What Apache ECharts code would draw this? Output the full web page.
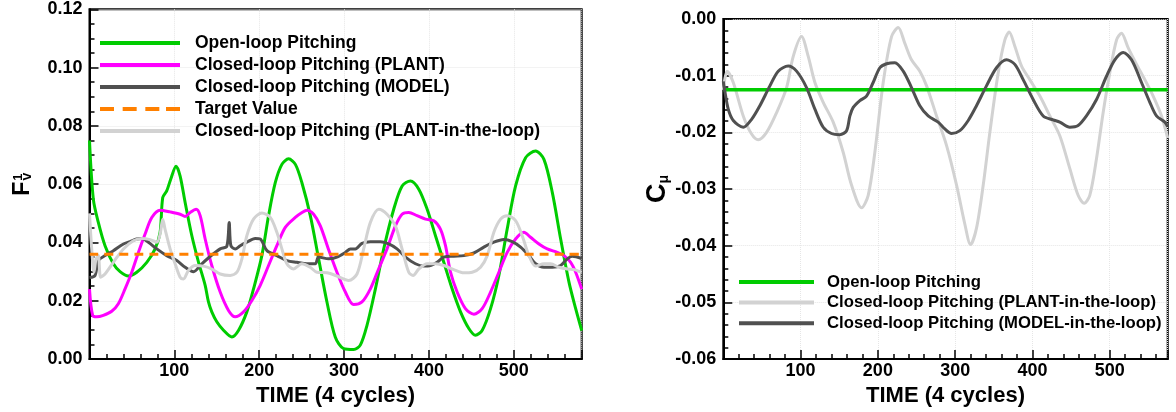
<!DOCTYPE html>
<html><head><meta charset="utf-8">
<script src="https://cdn.jsdelivr.net/npm/echarts@6/dist/echarts.min.js"></script>
<style>html,body{margin:0;padding:0;background:#fff}#c{width:1176px;height:412px}</style>
</head><body><div id="c"></div><script>
// ---------- data (left panel: F_v^1) ----------
const openT = [0, 4.5, 10.4, 18.3, 28.1, 36, 45.9, 55.7, 67.5, 77.3, 83.2, 86.3, 91, 95.7, 102, 106.8, 112.7, 120.6, 128.5, 136.3, 140.2, 144.1, 150, 157.9, 167.8, 175.7, 185.4, 193.3, 203.1, 211, 218.9, 226.7, 234.6, 242.6, 250.3, 260.2, 270, 279.8, 289.7, 299.5, 311.3, 319.1, 327, 336.9, 346.7, 358.5, 368.4, 378.2, 388, 397.9, 407.7, 417.5, 427.3, 437.2, 447, 454.8, 462.8, 472.6, 482.4, 492.2, 502.1, 513.9, 525.7, 535.5, 545.4, 555.2, 565, 572.9, 580];
const openF = [0.075, 0.0549, 0.0469, 0.0389, 0.0327, 0.030, 0.0285, 0.0298, 0.0332, 0.0378, 0.0435, 0.0554, 0.0577, 0.0617, 0.0662, 0.0628, 0.0537, 0.0423, 0.0332, 0.0253, 0.0196, 0.0162, 0.0128, 0.0099, 0.0076, 0.0099, 0.0162, 0.0241, 0.0355, 0.0492, 0.0605, 0.0668, 0.0687, 0.0668, 0.0605, 0.0492, 0.0344, 0.0196, 0.0075, 0.0036, 0.0033, 0.0048, 0.0116, 0.0241, 0.0378, 0.0514, 0.0594, 0.0611, 0.0583, 0.0514, 0.0423, 0.0332, 0.0241, 0.0162, 0.0105, 0.0082, 0.0099, 0.0173, 0.0287, 0.0446, 0.0594, 0.0691, 0.0714, 0.0685, 0.0571, 0.0412, 0.0264, 0.0173, 0.0098];

const plantT = [0, 3.7, 8.5, 16.3, 26.2, 34, 41.9, 49.8, 57.6, 65.5, 73.4, 83.2, 95, 106.8, 112.7, 118.6, 125.7, 130.4, 136.3, 144.1, 154, 163.8, 171.7, 181.5, 191.4, 201.2, 211, 220.8, 230.7, 242.5, 250.4, 256.3, 264.1, 272, 281.8, 291.6, 301.5, 311.3, 321.1, 331, 340.8, 350.6, 360.5, 368.3, 376.2, 386, 395.9, 405.7, 413.5, 419.5, 425.4, 433.2, 443, 452.9, 462.7, 472.6, 482.4, 492.2, 502.1, 511.9, 519.7, 529.6, 539.4, 551.2, 559.1, 567, 572.9, 580];
const plantF = [0.024, 0.015, 0.0145, 0.015, 0.0164, 0.019, 0.0241, 0.0298, 0.0366, 0.0429, 0.0486, 0.0511, 0.0505, 0.0497, 0.0489, 0.0503, 0.0514, 0.0492, 0.0412, 0.0321, 0.023, 0.0167, 0.0145, 0.0162, 0.0201, 0.0253, 0.0321, 0.0389, 0.0452, 0.0486, 0.0503, 0.0511, 0.0497, 0.0457, 0.0375, 0.0298, 0.023, 0.0187, 0.0196, 0.0241, 0.031, 0.0378, 0.0457, 0.0497, 0.0503, 0.0492, 0.048, 0.0475, 0.0446, 0.0389, 0.0298, 0.023, 0.0173, 0.0154, 0.0173, 0.023, 0.0298, 0.0366, 0.0412, 0.0435, 0.0418, 0.0395, 0.0378, 0.0366, 0.0355, 0.0332, 0.0298, 0.024];

const modelT = [0, 6.5, 10.4, 18.3, 28.1, 40, 47.8, 55.7, 61.6, 69.4, 79.3, 91, 102.9, 112.7, 122.5, 132.4, 144.2, 154, 161.8, 164.6, 166.6, 171.7, 177.6, 185.4, 195.3, 201.2, 209.1, 220.8, 232.6, 244.4, 256.3, 266.1, 270, 281.8, 291.6, 301.5, 307.4, 313.3, 321.1, 331, 342.8, 352.6, 362.4, 372.3, 384.1, 393.9, 401.8, 409.6, 417.5, 429.3, 441.1, 452.9, 464.7, 476.5, 488.3, 498.1, 508, 517.8, 525.7, 535.5, 545.4, 555.2, 563, 568.9, 580];
const modelF = [0.028, 0.0287, 0.0338, 0.0355, 0.0372, 0.0395, 0.0403, 0.0412, 0.0414, 0.0401, 0.0378, 0.0355, 0.0338, 0.0315, 0.030, 0.0327, 0.0357, 0.0378, 0.0387, 0.0469, 0.0389, 0.0378, 0.0389, 0.0401, 0.0414, 0.0412, 0.0372, 0.0355, 0.0338, 0.0332, 0.0327, 0.0327, 0.035, 0.0344, 0.035, 0.0366, 0.0378, 0.0378, 0.0397, 0.0403, 0.0403, 0.0395, 0.0378, 0.035, 0.0327, 0.0319, 0.0321, 0.0332, 0.035, 0.0353, 0.0355, 0.0364, 0.0384, 0.0401, 0.041, 0.0403, 0.0384, 0.0355, 0.0327, 0.0315, 0.0315, 0.0321, 0.0344, 0.0353, 0.0345];

const pitlT = [0, 2.6, 5.3, 7.7, 10.4, 13.2, 18.3, 28.1, 40, 51.7, 61.6, 71.4, 79.3, 83.2, 86.3, 89, 95, 100.9, 106.8, 110.7, 116.6, 124.5, 134.3, 144.2, 154, 165.8, 173.7, 179.6, 185.4, 193.3, 203.1, 213, 220.8, 226.7, 232.6, 240.4, 250.3, 260.1, 268, 279.8, 291.6, 305.4, 315.2, 323.1, 331, 340.8, 350.6, 360.5, 368.3, 376.2, 381.3, 388, 397.8, 407.7, 417.5, 429.3, 441.1, 451, 460.8, 468.7, 476.5, 484.4, 492.2, 502.1, 509.9, 517.8, 525.7, 535.5, 543.4, 553.2, 563, 570.9, 580];
const pitlF = [0.050, 0.0378, 0.0298, 0.0344, 0.0355, 0.0281, 0.0292, 0.0332, 0.0378, 0.0406, 0.0414, 0.041, 0.0401, 0.0429, 0.048, 0.0446, 0.0378, 0.0327, 0.0281, 0.0275, 0.0304, 0.0321, 0.0319, 0.0309, 0.0292, 0.0287, 0.0298, 0.0344, 0.0423, 0.048, 0.0501, 0.0486, 0.0435, 0.0378, 0.0327, 0.0309, 0.0327, 0.0315, 0.0298, 0.0296, 0.0285, 0.027, 0.0292, 0.0378, 0.0469, 0.0514, 0.0497, 0.0457, 0.0378, 0.0298, 0.0287, 0.0309, 0.0327, 0.0327, 0.0321, 0.0307, 0.0296, 0.0298, 0.0315, 0.0355, 0.0435, 0.048, 0.0492, 0.0475, 0.0423, 0.0355, 0.0319, 0.0327, 0.0327, 0.0315, 0.0309, 0.0307, 0.0298];

const targetT = [0, 580];
const targetF = [0.036, 0.036];

// ---------- data (right panel: C_mu) ----------
const cmOpenT = [0, 575];
const cmOpen = [-0.0125, -0.0125];

const cmPlantT = [0, 5, 12.9, 25.8, 36.6, 45.2, 56, 69, 81.9, 90.5, 101.2, 109.9, 118.5, 129.3, 142.2, 155.1, 165.9, 178.9, 187.5, 196.1, 206.9, 217.7, 226.3, 234.9, 243.5, 254.3, 263, 275.9, 288.8, 301.8, 312.7, 319.9, 327.6, 336.3, 344.9, 355.7, 364.3, 369.9, 377.2, 385.9, 396.6, 409.6, 422.5, 435.4, 448.4, 459.1, 466.9, 474.2, 482.9, 491.5, 500.1, 508.8, 515.2, 523.9, 534.7, 545.4, 556.2, 567, 575];
const cmPlant = [-0.0125, -0.0092, -0.0112, -0.0171, -0.0203, -0.0213, -0.020, -0.0165, -0.0121, -0.0066, -0.0031, -0.0066, -0.0112, -0.0147, -0.0182, -0.0235, -0.0293, -0.0333, -0.0311, -0.0235, -0.0112, -0.0031, -0.0015, -0.0043, -0.0072, -0.0092, -0.0118, -0.0171, -0.0223, -0.0293, -0.0363, -0.0398, -0.0369, -0.0293, -0.020, -0.0095, -0.0037, -0.0023, -0.0048, -0.0083, -0.0107, -0.0136, -0.0171, -0.0206, -0.0264, -0.0311, -0.0325, -0.0311, -0.0246, -0.0165, -0.0095, -0.0037, -0.0025, -0.0051, -0.008, -0.0107, -0.0136, -0.0171, -0.021];

const cmModelT = [0, 1.6, 6.4, 12.9, 25.8, 36.6, 47.3, 60.3, 71.1, 84, 94.8, 107.7, 118.5, 129.3, 140, 150.8, 159.5, 163.8, 168.1, 176.7, 185.3, 193.9, 202.6, 211.2, 222, 232.8, 243.5, 254.3, 265.1, 278, 286.7, 295.3, 306.1, 316.9, 327.6, 340.5, 353.5, 366.4, 377.2, 388, 400.9, 413.9, 426.8, 435.4, 448.4, 459.1, 469.9, 482.9, 495.8, 506.6, 517.4, 528.2, 541.1, 551.9, 560.5, 571.3, 575];
const cmModel = [-0.011, -0.0124, -0.0159, -0.0179, -0.0191, -0.0177, -0.0153, -0.0118, -0.0092, -0.0083, -0.0092, -0.0121, -0.0159, -0.0191, -0.0202, -0.0204, -0.0197, -0.0171, -0.0156, -0.0144, -0.0136, -0.0112, -0.0086, -0.0079, -0.0077, -0.0092, -0.0121, -0.0153, -0.0171, -0.0182, -0.0194, -0.0202, -0.0197, -0.0179, -0.0153, -0.0118, -0.0086, -0.0072, -0.008, -0.0107, -0.0142, -0.0171, -0.0178, -0.0182, -0.0191, -0.0188, -0.0171, -0.0142, -0.0101, -0.0072, -0.0059, -0.0072, -0.0112, -0.0147, -0.0171, -0.0182, -0.019];

const leftLegend = ['Open-loop Pitching', 'Closed-loop Pitching (PLANT)', 'Closed-loop Pitching (MODEL)', 'Target Value', 'Closed-loop Pitching (PLANT-in-the-loop)'];
const rightLegend = ['Open-loop Pitching', 'Closed-loop Pitching (PLANT-in-the-loop)', 'Closed-loop Pitching (MODEL-in-the-loop)'];
const dashedLegendItems = ['Target Value'];

// ---------- chart ----------
const FONT = '"Liberation Sans", Arial, sans-serif';
const zip = (xs, ys) => xs.map((x, i) => [x, ys[i]]);
const C = { green: '#00cc00', magenta: '#ff00ff', dark: '#505050', light: '#d2d2d2', orange: '#ff8000' };
const DASH_ICON = 'path://M0,0h14v4h-14z M22.67,0h14v4h-14z M45.33,0h14v4h-14z M66,0h14v4h-14z';
const legendItems = names => names.map(n => ({ name: n, icon: dashedLegendItems.includes(n) ? DASH_ICON : 'rect' }));

function majorX(grid, max) {
  return {
    gridIndex: grid, type: 'value', min: 0, max: max, interval: 100, position: 'bottom',
    axisLine: { show: true, onZero: false, lineStyle: { color: '#000', width: 2 } },
    axisTick: { inside: true, length: 9, lineStyle: { color: '#000', width: 1.5 } },
    axisLabel: { formatter: v => (v > 0 && v % 100 === 0) ? String(v) : '', color: '#000', fontSize: 18, fontWeight: 'bold', fontFamily: FONT, margin: 3 },
    splitLine: { show: true, lineStyle: { color: '#e6e6e6', type: 'dotted', width: 1 } },
    name: 'TIME (4 cycles)', nameLocation: 'middle', nameGap: 21,
    nameTextStyle: { color: '#000', fontSize: 22, fontWeight: 'bold', fontFamily: FONT }
  };
}
function minorX(grid, max) {
  return {
    gridIndex: grid, type: 'value', min: 0, max: max, interval: 20, position: 'bottom',
    axisLine: { show: false, onZero: false }, axisLabel: { show: false }, splitLine: { show: false },
    axisTick: { inside: true, length: 5, lineStyle: { color: '#000', width: 1.5 } }
  };
}
function majorY(grid, min, max, interval, name, gap, rich) {
  return {
    gridIndex: grid, type: 'value', min: min, max: max, interval: interval, position: 'left',
    axisLine: { show: true, onZero: false, lineStyle: { color: '#000', width: 2 } },
    axisTick: { inside: true, length: 9, lineStyle: { color: '#000', width: 1.5 } },
    axisLabel: { formatter: v => v.toFixed(2), color: '#000', fontSize: 18, fontWeight: 'bold', fontFamily: FONT, margin: 7 },
    splitLine: { show: true, lineStyle: { color: '#e6e6e6', type: 'dotted', width: 1 } },
    name: name, nameLocation: 'middle', nameRotate: 90, nameGap: gap,
    nameTextStyle: { color: '#000', fontFamily: FONT, fontWeight: 'bold', rich: rich }
  };
}
function minorY(grid, min, max, interval) {
  return {
    gridIndex: grid, type: 'value', min: min, max: max, interval: interval, position: 'left',
    axisLine: { show: false, onZero: false }, axisLabel: { show: false }, splitLine: { show: false },
    axisTick: { inside: true, length: 5, lineStyle: { color: '#000', width: 1.5 } }
  };
}
function line(name, xi, yi, data, color, width, dash, z) {
  return {
    name: name, type: 'line', xAxisIndex: xi, yAxisIndex: yi, data: data,
    symbol: 'none', showSymbol: false, smooth: 0.3, z: z, clip: true,
    lineStyle: { color: color, width: width, type: dash || 'solid' }, itemStyle: { color: color }
  };
}

const legendText = (size, pad) => ({ color: '#000', fontSize: size, fontWeight: 'bold', fontFamily: FONT, padding: [0, 0, 0, pad], lineHeight: size });

const option = {
  animation: false,
  backgroundColor: '#fff',
  grid: [
    { left: 89.5, top: 9.3, width: 492.2, height: 351.4, show: true, borderColor: '#000', borderWidth: 2 },
    { left: 723.3, top: 19, width: 444.4, height: 343.3, show: true, borderColor: '#000', borderWidth: 2 }
  ],
  xAxis: [majorX(0, 580), minorX(0, 580), majorX(1, 575), minorX(1, 575)],
  yAxis: [
    majorY(0, 0, 0.12, 0.02, '{f|F}{s|1}{v|v}', 55, {
      f: { fontSize: 23, fontWeight: 'bold', fontFamily: FONT, color: '#000' },
      s: { fontSize: 13, fontWeight: 'bold', fontFamily: FONT, color: '#000', verticalAlign: 'top', padding: [0, 0, 0, 1] },
      v: { fontSize: 14, fontWeight: 'bold', fontFamily: FONT, color: '#000', verticalAlign: 'bottom', padding: [0, 0, 0, -7] }
    }),
    minorY(0, 0, 0.12, 0.005),
    majorY(1, -0.06, 0, 0.01, '{c|C}{m|μ}', 50, {
      c: { fontSize: 27, fontWeight: 'bold', fontFamily: FONT, color: '#000' },
      m: { fontSize: 14, fontWeight: 'bold', fontFamily: FONT, color: '#000', verticalAlign: 'bottom' }
    }),
    minorY(1, -0.06, 0, 0.002)
  ],
  legend: [
    { data: legendItems(leftLegend), orient: 'vertical', left: 100, top: 34, padding: 0, itemWidth: 80, itemHeight: 4, itemGap: 4.0,
      selectedMode: false, textStyle: legendText(17.5, 10) },
    { data: legendItems(rightLegend), orient: 'vertical', left: 739, top: 273.5, padding: 0, itemWidth: 75, itemHeight: 4, itemGap: 3.6,
      selectedMode: false, textStyle: legendText(16.7, 8) }
  ],
  series: [
    line('Open-loop Pitching', 0, 0, zip(openT, openF), C.green, 3, null, 2),
    line('Closed-loop Pitching (PLANT)', 0, 0, zip(plantT, plantF), C.magenta, 3, null, 3),
    line('Closed-loop Pitching (MODEL)', 0, 0, zip(modelT, modelF), C.dark, 3, null, 4),
    line('Closed-loop Pitching (PLANT-in-the-loop)', 0, 0, zip(pitlT, pitlF), C.light, 3, null, 5),
    line('Target Value', 0, 0, zip(targetT, targetF), C.orange, 3, [9, 6], 6),
    line('Closed-loop Pitching (PLANT-in-the-loop)', 2, 2, zip(cmPlantT, cmPlant), C.light, 3, null, 2),
    line('Open-loop Pitching', 2, 2, zip(cmOpenT, cmOpen), C.green, 3.5, null, 3),
    line('Closed-loop Pitching (MODEL-in-the-loop)', 2, 2, zip(cmModelT, cmModel), C.dark, 3, null, 4)
  ]
};
const chart = echarts.init(document.getElementById('c'), null, { renderer: 'canvas' });
chart.setOption(option);
</script></body></html>
